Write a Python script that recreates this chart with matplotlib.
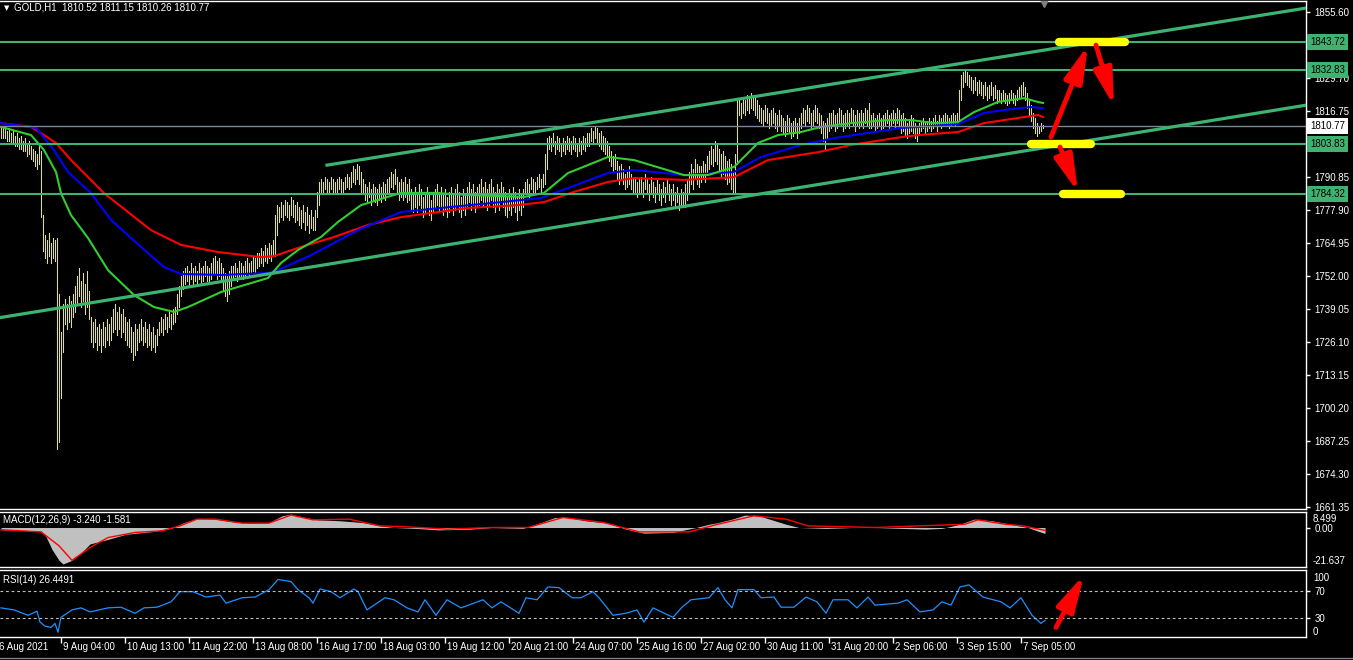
import numpy as np
import matplotlib.pyplot as plt
from matplotlib.transforms import blended_transform_factory
from matplotlib.lines import Line2D

plt.rcParams['font.family'] = ['Liberation Sans', 'DejaVu Sans']

# ---------------- data (GOLD H1, one value per hourly bar) ----------------
highs = [
    1811, 1810, 1811, 1809, 1810, 1808, 1809, 1807, 1808, 1806, 1807, 1805, 1806, 1804, 1805, 1803, 1802, 1801, 1800, 1803,
    1801,
    1776, 1768, 1766, 1769, 1765, 1767, 1766,
    1767, 1745, 1730, 1741,
    1743, 1741, 1744, 1742, 1745,
    1748, 1752, 1755, 1750, 1753, 1749, 1754, 1746,
    1736, 1734, 1735, 1732, 1733, 1731, 1734, 1732, 1735, 1733, 1736,
    1739, 1741, 1738, 1740, 1737, 1739,
    1736, 1734, 1735, 1732, 1730, 1733, 1731,
    1733, 1735, 1732, 1734, 1731, 1733, 1730, 1732, 1729, 1731,
    1734, 1736, 1735, 1737, 1736, 1738, 1737, 1739,
    1740, 1745, 1748, 1752, 1754,
    1755, 1756, 1754, 1757, 1755, 1756, 1754, 1757, 1755, 1756, 1758, 1756, 1755, 1757, 1759,
    1760, 1758, 1759, 1757,
    1755, 1753, 1752, 1754, 1756,
    1756, 1757, 1755, 1758, 1757, 1756, 1758, 1759, 1757, 1758, 1760, 1759, 1761,
    1761, 1763, 1762, 1764, 1763, 1765, 1764, 1766,
    1776, 1780,
    1779, 1781, 1780, 1782, 1781, 1780, 1783, 1782, 1780, 1781, 1779, 1778, 1780, 1777, 1779, 1776, 1778, 1775,
    1778, 1785, 1789,
    1790, 1789, 1791, 1790, 1789, 1791, 1790, 1789, 1790, 1791, 1790, 1789, 1791, 1792,
    1791, 1793, 1795, 1794, 1796, 1795, 1793, 1790,
    1788, 1787, 1789, 1786, 1788, 1787, 1786, 1788, 1787, 1789, 1788, 1790,
    1791, 1793, 1792, 1794, 1791, 1789, 1790,
    1789, 1791, 1788, 1790, 1786, 1784, 1787, 1785, 1788, 1786, 1783, 1785, 1787, 1784, 1782, 1785,
    1786, 1788, 1785, 1787, 1784, 1786, 1783, 1785, 1787, 1784, 1786, 1788, 1785, 1783, 1786, 1784, 1787, 1789, 1786, 1788, 1785, 1787,
    1788, 1790, 1787, 1789, 1786, 1788, 1790, 1787, 1785, 1788, 1786, 1789, 1787, 1785, 1783, 1786, 1784, 1787, 1785, 1783, 1786, 1784, 1786,
    1789, 1790, 1788, 1791, 1790, 1789, 1791, 1792, 1790, 1792,
    1800, 1806,
    1807, 1806, 1808, 1805, 1807, 1806, 1804, 1806, 1805, 1807,
    1806, 1805, 1807, 1806, 1804, 1806, 1805, 1807, 1806, 1808,
    1808, 1810, 1809, 1811, 1810, 1808, 1809, 1807, 1806, 1805,
    1803, 1801, 1799, 1800, 1797, 1795, 1796, 1794, 1792, 1793, 1795, 1792, 1790, 1791, 1789, 1790,
    1791, 1789, 1792, 1790, 1788, 1791, 1789, 1787, 1790, 1788, 1786, 1789, 1787, 1790, 1788, 1786, 1788, 1785, 1787, 1784, 1786, 1785,
    1788,
    1790, 1793, 1796, 1794, 1798, 1796, 1795,
    1795, 1797, 1796, 1799, 1801, 1803, 1802, 1805, 1804, 1802, 1800, 1801, 1799, 1797, 1798, 1796, 1793,
    1800, 1822,
    1821, 1820, 1822, 1821, 1823, 1822, 1824, 1823, 1822, 1821,
    1819, 1818, 1817, 1819, 1818, 1816, 1817, 1818, 1816, 1815, 1817,
    1815, 1814, 1813, 1815, 1814, 1812, 1813, 1814, 1812, 1814,
    1816, 1818, 1817, 1819, 1818, 1816, 1817, 1819, 1818, 1816,
    1815, 1813, 1812, 1814, 1816,
    1816, 1817, 1815, 1816, 1818, 1817, 1815, 1816, 1817, 1816, 1818, 1817, 1815, 1817, 1816,
    1817, 1816, 1818, 1817,
    1820,
    1815, 1816, 1814, 1815, 1816, 1814, 1815, 1816, 1817, 1815, 1816, 1817,
    1816, 1818, 1817, 1815, 1816, 1814, 1812, 1813, 1815, 1814, 1812, 1811,
    1812, 1813, 1814, 1812, 1813, 1814, 1813, 1814, 1815, 1813,
    1815, 1814, 1815, 1816, 1815, 1814, 1815, 1816, 1815, 1816,
    1825, 1831,
    1832, 1833, 1832, 1831,
    1830, 1829, 1830, 1828, 1829, 1828, 1827, 1828, 1826, 1827, 1828, 1826, 1827, 1825,
    1825, 1824, 1825, 1824, 1823, 1824, 1825, 1824, 1823, 1825, 1826,
    1827, 1828, 1826,
    1824, 1821, 1819,
    1816, 1814, 1812, 1811, 1812, 1811.15,
]
lows = [
    1806, 1806, 1806, 1805, 1805, 1804, 1804, 1803, 1803, 1802, 1802, 1801, 1801, 1799, 1800, 1798, 1797, 1795, 1794, 1796,
    1775,
    1762, 1759, 1757, 1760, 1757, 1759, 1758,
    1684, 1687, 1704, 1722,
    1733, 1731, 1734, 1732, 1736,
    1738, 1741, 1744, 1740, 1742, 1737, 1740, 1735,
    1726, 1724, 1726, 1723, 1725, 1722, 1725, 1724, 1727, 1725, 1727,
    1730, 1731, 1729, 1731, 1728, 1730,
    1727, 1725, 1724, 1722, 1719, 1721, 1723,
    1726, 1727, 1725, 1726, 1724, 1725, 1723, 1724, 1722, 1725,
    1729, 1730, 1729, 1731, 1730, 1732, 1731, 1733,
    1734, 1737, 1740, 1744, 1747,
    1749, 1750, 1748, 1751, 1749, 1750, 1748, 1751, 1749, 1750, 1752, 1750, 1749, 1751, 1753,
    1753, 1751, 1752, 1750,
    1746, 1744, 1742, 1745, 1748,
    1751, 1752, 1750, 1752, 1751, 1751, 1752, 1753, 1752, 1753, 1754, 1753, 1755,
    1756, 1757, 1756, 1758, 1757, 1759, 1758, 1760,
    1760, 1768,
    1773, 1775, 1774, 1776, 1775, 1774, 1776, 1775, 1773, 1774, 1772, 1771, 1773, 1770, 1772, 1769, 1771, 1770,
    1770, 1775, 1780,
    1785, 1784, 1786, 1785, 1784, 1786, 1785, 1784, 1785, 1786, 1785, 1784, 1786, 1787,
    1786, 1787, 1789, 1788, 1790, 1788, 1785, 1784,
    1782, 1781, 1783, 1780, 1782, 1781, 1780, 1782, 1781, 1783, 1782, 1784,
    1785, 1787, 1786, 1788, 1784, 1782, 1783,
    1782, 1783, 1781, 1782, 1778, 1777, 1779, 1777, 1780, 1778, 1775, 1777, 1779, 1776, 1774, 1777,
    1779, 1780, 1778, 1779, 1776, 1778, 1775, 1777, 1779, 1776, 1778, 1780, 1777, 1775, 1778, 1776, 1779, 1781, 1778, 1780, 1777, 1779,
    1780, 1782, 1779, 1781, 1778, 1780, 1782, 1779, 1777, 1780, 1778, 1781, 1779, 1776, 1775, 1778, 1776, 1779, 1777, 1774, 1778, 1776, 1779,
    1784, 1785, 1783, 1786, 1785, 1784, 1786, 1787, 1785, 1787,
    1788, 1794,
    1802, 1801, 1803, 1800, 1802, 1801, 1799, 1801, 1800, 1802,
    1801, 1800, 1802, 1801, 1799, 1801, 1800, 1802, 1801, 1803,
    1803, 1805, 1804, 1806, 1804, 1803, 1802, 1801, 1800, 1799,
    1797, 1795, 1793, 1794, 1790, 1788, 1790, 1788, 1786, 1787, 1788, 1786, 1784, 1785, 1783, 1784,
    1785, 1783, 1786, 1784, 1782, 1785, 1783, 1781, 1784, 1782, 1780, 1783, 1781, 1784, 1782, 1780, 1782, 1779, 1781, 1778, 1780, 1779,
    1779,
    1782, 1785, 1788, 1786, 1790, 1788, 1787,
    1789, 1790, 1789, 1792, 1794, 1796, 1795, 1797, 1796, 1793, 1791, 1792, 1790, 1788, 1789, 1786, 1784,
    1784, 1796,
    1815, 1814, 1816, 1815, 1817, 1816, 1818, 1817, 1815, 1814,
    1813, 1812, 1811, 1813, 1812, 1810, 1811, 1812, 1810, 1809, 1811,
    1809, 1808, 1807, 1809, 1808, 1806, 1807, 1808, 1806, 1808,
    1810, 1812, 1811, 1813, 1812, 1810, 1811, 1813, 1812, 1810,
    1808, 1805, 1802, 1806, 1809,
    1810, 1811, 1809, 1810, 1812, 1811, 1809, 1810, 1811, 1810, 1812, 1811, 1809, 1811, 1810,
    1811, 1810, 1812, 1811,
    1810,
    1810, 1811, 1809, 1810, 1811, 1809, 1810, 1811, 1812, 1810, 1811, 1812,
    1810, 1812, 1811, 1808, 1809, 1807, 1806, 1808, 1809, 1808, 1806, 1805,
    1808, 1809, 1810, 1808, 1809, 1810, 1809, 1810, 1811, 1809,
    1811, 1810, 1811, 1812, 1811, 1810, 1811, 1812, 1811, 1812,
    1813, 1821,
    1826, 1828, 1827, 1826,
    1825, 1824, 1825, 1823, 1824, 1823, 1822, 1823, 1821, 1822, 1823, 1821, 1822, 1820,
    1821, 1820, 1821, 1820, 1819, 1820, 1821, 1820, 1819, 1821, 1822,
    1822, 1823, 1821,
    1818, 1815, 1813,
    1810, 1808, 1807, 1808, 1809, 1810.26,
]

# moving averages (bar index, price)
ma_fast_bars = [0, 15, 21.5, 27.5, 30, 35, 43.5, 53.5, 66.5, 76.5, 86.5, 93.5, 110, 133.5, 140, 148.5, 160,
                168.5, 180, 191.5, 200, 216.5, 233.5, 261.5, 271.5, 283.5, 303.5, 316.5, 341.5, 353.5, 366.5,
                378.5, 388.5, 400, 410, 425, 443.5, 455, 466.5, 478.5, 486.5, 498.5, 511.5, 518.5, 521]
ma_fast = [1810.5, 1807.3, 1801.4, 1792.8, 1784.5, 1775.9, 1766.9, 1754.3, 1744.5, 1739.8, 1737.9, 1739.8,
           1745.7, 1751.2, 1757.1, 1762.2, 1767.3, 1773.2, 1779.8, 1782.6, 1784.6, 1784.6, 1783.8, 1783.0,
           1784.6, 1792.4, 1798.7, 1797.5, 1791.6, 1791.6, 1794.8, 1804.2, 1807.3, 1808.5, 1810.5, 1812.0,
           1813.2, 1813.2, 1812.0, 1812.4, 1816.3, 1820.3, 1821.8, 1820.3, 1819.9]
ma_mid_bars = [0, 17.5, 22.5, 26.5, 33.5, 45, 55, 70, 81.5, 90, 110, 133.5, 138.5, 155, 178.5, 200, 225, 250,
               270, 283.5, 303.5, 316.5, 341.5, 366.5, 380, 400, 416.5, 450, 458.5, 478.5, 491.5, 505, 515, 521]
ma_mid = [1812.0, 1810.1, 1805.4, 1801.4, 1792.8, 1784.5, 1774.0, 1763.4, 1755.5, 1752.8, 1752.4, 1753.2,
          1754.3, 1760.2, 1770.0, 1777.1, 1779.1, 1781.0, 1782.6, 1786.5, 1792.4, 1793.6, 1791.6, 1792.8,
          1798.7, 1803.4, 1806.1, 1810.1, 1810.5, 1811.6, 1816.0, 1817.5, 1818.3, 1817.9]
ma_slow_bars = [0, 15, 20, 27.5, 35, 42.5, 51.5, 75, 90, 108.5, 130, 136.5, 150, 166.5, 183.5, 200, 233.5,
                258.5, 271.5, 286.5, 303.5, 316.5, 341.5, 366.5, 383.5, 408.5, 425, 450, 458.5, 478.5, 491.5,
                508.5, 518.5, 521]
ma_slow = [1812.0, 1810.5, 1808.1, 1804.2, 1797.5, 1791.6, 1784.5, 1770.0, 1764.2, 1761.4, 1759.4, 1759.8,
           1763.4, 1767.3, 1772.0, 1775.1, 1778.7, 1779.8, 1781.0, 1785.0, 1788.9, 1790.4, 1789.7, 1790.8,
           1797.5, 1800.6, 1803.4, 1806.5, 1807.3, 1808.5, 1812.0, 1814.0, 1815.2, 1814.4]

# MACD(12,26,9): main (histogram) and signal
macd_bars = [0, 20, 22.5, 25.5, 29, 31, 35.5, 40, 44.5, 53.5,
             62.5, 76, 85, 91.5, 98, 107, 116, 125, 134, 140.5,
             145, 152, 158.5, 169.5, 181, 189.5, 196.5, 207.5, 218.5, 234.5,
             245.5, 261, 270, 277, 283.5, 292.5, 303.5, 312.5, 321.5, 336,
             347.5, 354, 358.5, 365.5, 372, 379, 385.5, 392.5, 399, 412.5,
             426, 437, 450.5, 462, 470.5, 479.5, 486.5, 495.5, 504.5, 513.5,
             518, 522]
macd_main = [-1.2, -2, -5, -12, -18, -20, -18, -14, -9, -6.5,
             -3.7, -2.2, -0.5, 2.7, 5, 4.6, 3.1, 2.4, 2.7, 6.4,
             7.3, 5.5, 4.2, 3.7, 2.7, 0.9, 0, -0.5, -1.3, -0.9,
             0, -0.5, 2.7, 5.5, 5.5, 3.7, 2.4, -0.9, -3.1, -2.7,
             0, 1.8, 2.7, 4.6, 6.8, 6.4, 4.2, 1.8, 0, -0.5,
             0, 0, -0.5, -0.9, -0.5, 1.8, 4.6, 3.7, 1.8, 0,
             -1.8, -3.24]
signal_bars = [0, 20, 29, 35.5, 44.5, 53.5, 67, 80.5, 89.5, 98,
               107, 120.5, 134, 145, 156, 174, 189.5, 201, 223, 245.5,
               263.5, 281, 301.5, 319, 344, 358.5, 376.5, 392.5, 403.5, 437,
               482, 488.5, 502, 511, 522]
macd_signal = [-1.2, -2.4, -10, -18, -11, -5.5, -2.7, -1.8, 0.9, 4.6,
               4.6, 2.4, 2.4, 6.8, 4.2, 4.6, 0.9, 0.5, -0.9, 0,
               0, 5.5, 2.7, -2.4, -2.4, 1.8, 6.4, 4.6, 0.9, 0,
               1.8, 4.2, 1.8, 0.9, -1.581]

# RSI(14)
rsi_bars = [0, 6.5, 13.5, 18, 19.5, 22, 25, 27, 28.5, 30,
            35.5, 40, 44.5, 53.5, 60, 67, 71.5, 78, 85, 89.5,
            96, 102.5, 109.5, 112.5, 120.5, 127, 134, 138.5, 145, 148.5,
            154, 156, 159.5, 165, 169.5, 176.5, 178.5, 183, 192, 196.5,
            203, 208.5, 212, 217.5, 223, 230, 241, 245.5, 250, 259,
            262.5, 268, 273.5, 279, 285.5, 290, 296, 299, 306, 312.5,
            318, 321.5, 326, 336, 340.5, 345, 354, 358.5, 362, 365.5,
            368.5, 376.5, 380, 386.5, 390, 396.5, 402.5, 408, 412.5, 416,
            423.5, 428, 433.5, 437, 448.5, 453, 459.5, 466, 470.5, 475,
            479.5, 484, 491, 500, 504.5, 510, 515.5, 520, 522]
rsi = [45, 42, 34, 40, 24, 18, 16, 22, 9, 31,
       42, 45, 39, 45, 46, 37, 45, 46, 54, 69,
       69, 61, 64, 52, 60, 61, 72, 87, 84, 72,
       60, 52, 73, 69, 60, 73, 69, 42, 60, 57,
       45, 39, 57, 34, 57, 45, 57, 45, 54, 37,
       60, 57, 76, 75, 60, 60, 69, 60, 34, 37,
       42, 24, 45, 31, 46, 57, 60, 75, 57, 45,
       72, 72, 60, 61, 46, 46, 61, 54, 37, 57,
       57, 45, 61, 49, 52, 57, 39, 42, 54, 49,
       76, 79, 61, 54, 45, 60, 34, 22, 26.45]

# levels, trend channel, annotations (bar index, price)
levels = [1843.72, 1832.83, 1803.83, 1784.32]
last_price = 1810.77
channel_upper = ([163, 653], [1795.5, 1857.2])
channel_lower = ([-1, 653], [1735.6, 1819.1])
yellow_marks = [(529, 562, 1843.72), (515, 545, 1803.83), (531, 560, 1784.32)]
arrows = [((525, 1806.5), (543.5, 1842.6)),
          ((547.5, 1842.6), (556.5, 1818.7)),
          ((529.5, 1802.6), (538.5, 1784.9))]
rsi_arrow = ((527.5, 16), (541.5, 94))

price_ticks = [1661.35 + 12.95 * k for k in range(16)]
date_bars = [-2 + 32 * k for k in range(17)]
date_labels = ['6 Aug 2021', '9 Aug 04:00', '10 Aug 13:00', '11 Aug 22:00', '13 Aug 08:00', '16 Aug 17:00',
               '18 Aug 03:00', '19 Aug 12:00', '20 Aug 21:00', '24 Aug 07:00', '25 Aug 16:00',
               '27 Aug 02:00', '30 Aug 11:00', '31 Aug 20:00', '2 Sep 06:00', '3 Sep 15:00', '7 Sep 05:00']

# ---------------- figure ----------------
W, H = 1353, 660
fig = plt.figure(figsize=(W / 100, H / 100), dpi=100, facecolor='black')
ax = fig.add_axes([0, 1 - 509 / H, 1306 / W, 508 / H])
ax_macd = fig.add_axes([0, 1 - 567 / H, 1306 / W, 55 / H])
ax_rsi = fig.add_axes([0, 1 - 637 / H, 1306 / W, 67 / H])

FS = 7
for a in (ax, ax_macd, ax_rsi):
    a.set_facecolor('black')
    for s in a.spines.values():
        s.set_color('white')
        s.set_linewidth(1)
    a.spines['left'].set_visible(False)
    a.yaxis.tick_right()
    a.tick_params(axis='y', colors='white', length=3, width=1, pad=3, labelsize=FS)
    a.tick_params(axis='x', bottom=False, labelbottom=False)
    a.set_xlim(-0.5, 652.5)

GREEN = '#3cb371'

# main price panel
n = min(len(highs), len(lows))
x = np.arange(n)
ax.vlines(x, lows[:n], highs[:n], color='#f0f000', lw=0.55, antialiased=False, zorder=1)
ax.plot(ma_slow_bars, ma_slow, color='#ff0000', lw=1.5, zorder=2)
ax.plot(ma_mid_bars, ma_mid, color='#0000ff', lw=1.5, zorder=2)
ax.plot(ma_fast_bars, ma_fast, color='#32cd32', lw=1.5, zorder=2)

for lv in levels:
    ax.axhline(lv, color=GREEN, lw=1.5, zorder=3)
ax.axhline(last_price, color='#778899', lw=1, zorder=3)
ax.plot(*channel_upper, color=GREEN, lw=2.3, zorder=3)
ax.plot(*channel_lower, color=GREEN, lw=2.3, zorder=3)

ARROW = dict(arrowstyle='-|>,head_length=1.1,head_width=0.28', color='red',
             lw=3.5, mutation_scale=20, shrinkA=0, shrinkB=0)
for x0, x1, p in yellow_marks:
    ax.plot([x0, x1], [p, p], color='#ffff00', lw=6, solid_capstyle='round', zorder=5)
for tail, tip in arrows:
    ax.annotate('', xy=tip, xytext=tail, zorder=6, arrowprops=ARROW)

ax.set_ylim(1660.55, 1859.92)
ax.set_yticks(price_ticks)
# the ticks at 1842.65 and 1803.80 sit under the level boxes, so their text is left out
ax.set_yticklabels(['' if any(abs(v - lv) < 2 for lv in levels) else f'{v:.2f}' for v in price_ticks])
ax.plot([521.5], [1859.92], marker='v', color='#808080', ms=9, zorder=6)

tr = blended_transform_factory(ax.transAxes, ax.transData)
for lv in levels:
    ax.text(1.003, lv, f'{lv:.2f}', transform=tr, ha='left', va='center', fontsize=FS, color='black',
            bbox=dict(boxstyle='square,pad=0.3', fc=GREEN, ec='none'), clip_on=False, zorder=10)
ax.text(1.003, last_price, f'{last_price:.2f}', transform=tr, ha='left', va='center', fontsize=FS,
        color='black', bbox=dict(boxstyle='square,pad=0.3', fc='white', ec='none'), clip_on=False, zorder=10)

fig.text(7 / W, 1 - 8 / H, '▼', color='white', fontsize=5, ha='center', va='center', family='DejaVu Sans')
fig.text(14 / W, 1 - 8 / H, 'GOLD,H1  1810.52 1811.15 1810.26 1810.77', color='white', fontsize=FS,
         ha='left', va='center')

# MACD panel
ax_macd.fill_between(macd_bars, macd_main, 0, color='#c0c0c0', lw=0)
ax_macd.plot(signal_bars, macd_signal, color='#ff0000', lw=1)
ax_macd.set_ylim(-21.637, 8.499)
ax_macd.set_yticks([0])
ax_macd.set_yticklabels(['0.00'])
fig.text(1313 / W, 1 - 519 / H, '8.499', color='white', fontsize=FS, va='center')
fig.text(1313 / W, 1 - 561 / H, '-21.637', color='white', fontsize=FS, va='center')
fig.text(3 / W, 1 - 520 / H, 'MACD(12,26,9) -3.240 -1.581', color='white', fontsize=FS, va='center')

# RSI panel
ax_rsi.plot(rsi_bars, rsi, color='#1e90ff', lw=0.9)
for lv in (70, 30):
    ax_rsi.axhline(lv, color='#c0c0c0', lw=0.8, dashes=(2.5, 2.5))
ax_rsi.annotate('', xy=rsi_arrow[1], xytext=rsi_arrow[0], arrowprops=ARROW)
ax_rsi.set_ylim(1.85, 101.1)
ax_rsi.set_yticks([70, 30])
ax_rsi.set_yticklabels(['70', '30'])
fig.text(1313 / W, 1 - 578 / H, '100', color='white', fontsize=FS, va='center')
fig.text(1313 / W, 1 - 632 / H, '0', color='white', fontsize=FS, va='center')
fig.text(3 / W, 1 - 580 / H, 'RSI(14) 26.4491', color='white', fontsize=FS, va='center')

# time axis
ax_rsi.tick_params(axis='x', bottom=True, colors='white', length=4, width=1)
ax_rsi.set_xticks([b for b in date_bars if b >= 0])
ax_rsi.set_xticklabels([])
trx = blended_transform_factory(ax_rsi.transData, ax_rsi.transAxes)
for b, lab in zip(date_bars, date_labels):
    ax_rsi.text(b + 1, -5 / 67, lab, transform=trx, ha='left', va='top', color='white', fontsize=FS,
                clip_on=False)

fig.add_artist(Line2D([0, 1], [1 - 658 / H] * 2, color='#808080', lw=1))

fig.savefig('out.png', dpi=100, facecolor='black')
